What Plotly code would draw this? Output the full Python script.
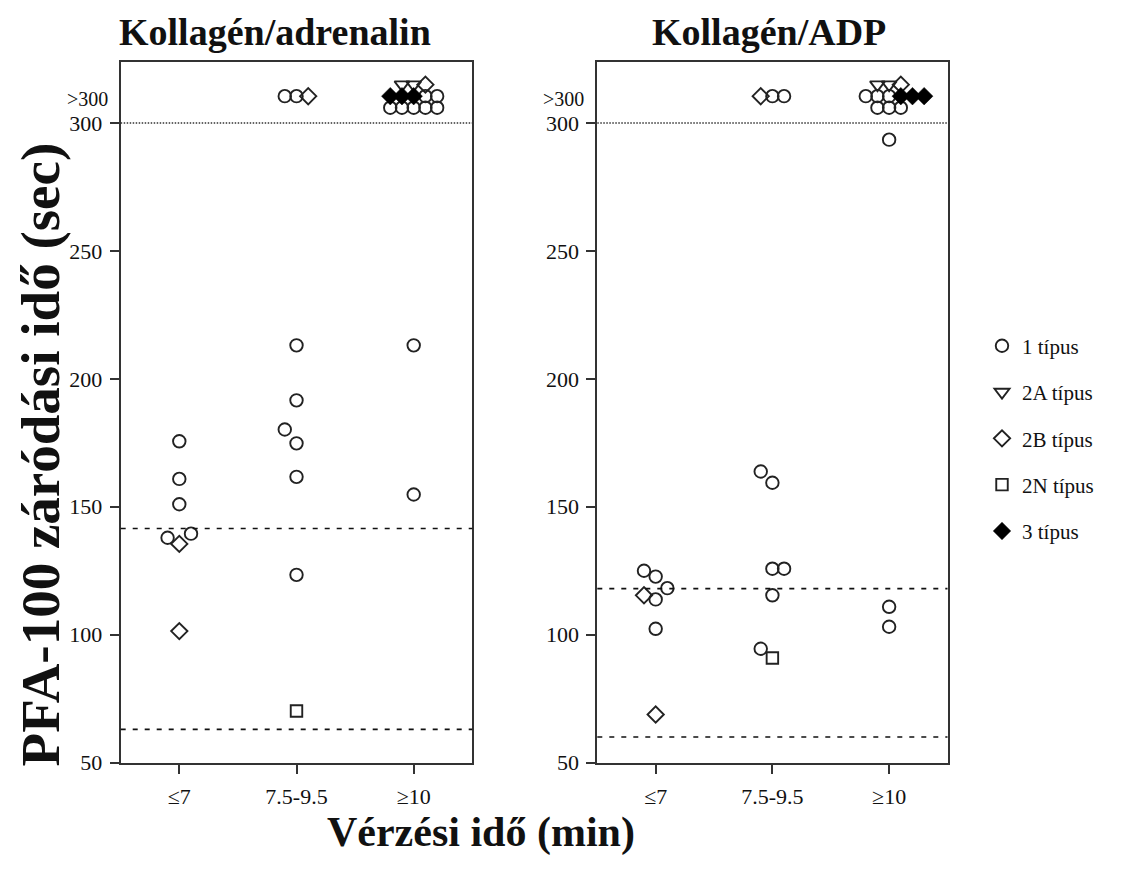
import plotly.graph_objects as go

categories = ["≤7", "7.5-9.5", "≥10"]
panel_titles = ["Kollagén/adrenalin", "Kollagén/ADP"]
type_names = ["1 típus", "2A típus", "2B típus", "2N típus", "3 típus"]
y_tick_vals = [50, 100, 150, 200, 250, 300]
over_label = ">300"
over_label_y = 309.5

# ---- Kollagén/adrenalin (category index 1..3, value in sec, horizontal jitter) ----
adr_t1_cat = [1, 1, 1, 1, 1, 2, 2, 2, 2, 2, 2, 2, 2, 3, 3, 3, 3, 3, 3, 3, 3, 3]
adr_t1_val = [175.6, 160.9, 151.0, 137.9, 139.5,
              213.1, 191.6, 180.2, 174.8, 161.7, 123.4, 310.5, 310.5,
              213.1, 154.8, 310.5, 310.5, 306, 306, 306, 306, 306]
adr_t1_jit = [0, 0, 0, -0.1, 0.1,
              0, 0, -0.1, 0, 0, 0, -0.1, 0,
              0, 0, 0.1, 0.2, -0.2, -0.1, 0, 0.1, 0.2]
adr_t2a_cat = [3, 3]
adr_t2a_val = [315, 315]
adr_t2a_jit = [-0.1, 0]
adr_t2b_cat = [1, 1, 2, 3]
adr_t2b_val = [135.5, 101.4, 310.5, 315]
adr_t2b_jit = [0, 0, 0.1, 0.1]
adr_t2n_cat = [2]
adr_t2n_val = [70.2]
adr_t2n_jit = [0]
adr_t3_cat = [3, 3, 3]
adr_t3_val = [310.5, 310.5, 310.5]
adr_t3_jit = [-0.2, -0.1, 0]
adr_ref_lines = [141.5, 63.0]

# ---- Kollagén/ADP ----
adp_t1_cat = [1, 1, 1, 1, 1, 2, 2, 2, 2, 2, 2, 2, 2, 3, 3, 3, 3, 3, 3, 3, 3, 3]
adp_t1_val = [125.0, 122.7, 118.2, 113.8, 102.3,
              163.8, 159.4, 125.8, 125.8, 115.4, 94.5, 310.5, 310.5,
              110.9, 103.1, 293.5, 310.5, 310.5, 310.5, 306, 306, 306]
adp_t1_jit = [-0.1, 0, 0.1, 0, 0,
              -0.1, 0, 0, 0.1, 0, -0.1, 0, 0.1,
              0, 0, 0, -0.2, -0.1, 0, -0.1, 0, 0.1]
adp_t2a_cat = [3, 3]
adp_t2a_val = [315, 315]
adp_t2a_jit = [-0.1, 0]
adp_t2b_cat = [1, 1, 2, 3]
adp_t2b_val = [115.4, 68.8, 310.5, 315]
adp_t2b_jit = [-0.1, 0, -0.1, 0.1]
adp_t2n_cat = [2]
adp_t2n_val = [90.9]
adp_t2n_jit = [0]
adp_t3_cat = [3, 3, 3]
adp_t3_val = [310.5, 310.5, 310.5]
adp_t3_jit = [0.1, 0.2, 0.3]
adp_ref_lines = [118.0, 60.0]

FONT = "Liberation Serif, Times New Roman, serif"
INK = "#222222"

styles = [
    dict(symbol="circle-open", size=12.5, color=INK, line=dict(width=1.9, color=INK)),
    dict(symbol="triangle-down-open", size=13, color=INK, line=dict(width=1.9, color=INK)),
    dict(symbol="diamond-open", size=12.5, color=INK, line=dict(width=1.9, color=INK)),
    dict(symbol="square-open", size=11.5, color=INK, line=dict(width=1.9, color=INK)),
    dict(symbol="diamond", size=13.5, color="black", line=dict(width=0.5, color="black")),
]

panels = [
    [(adr_t1_cat, adr_t1_val, adr_t1_jit), (adr_t2a_cat, adr_t2a_val, adr_t2a_jit),
     (adr_t2b_cat, adr_t2b_val, adr_t2b_jit), (adr_t2n_cat, adr_t2n_val, adr_t2n_jit),
     (adr_t3_cat, adr_t3_val, adr_t3_jit)],
    [(adp_t1_cat, adp_t1_val, adp_t1_jit), (adp_t2a_cat, adp_t2a_val, adp_t2a_jit),
     (adp_t2b_cat, adp_t2b_val, adp_t2b_jit), (adp_t2n_cat, adp_t2n_val, adp_t2n_jit),
     (adp_t3_cat, adp_t3_val, adp_t3_jit)],
]
ref_lines = [adr_ref_lines, adp_ref_lines]

W, H = 1128, 871
HE = 859.0  # effective rendered height of the plotting area in the viewer


def py(px_from_top):
    return 1 - px_from_top / HE


x_domains = [[120.7 / W, 472.3 / W], [597.3 / W, 947.5 / W]]
y_domain = [py(763.5), py(61.7)]
title_x_px = [275, 769]

fig = go.Figure()
for p, series in enumerate(panels):
    xa = "x" if p == 0 else "x2"
    ya = "y" if p == 0 else "y2"
    for t, (cats, vals, jit) in enumerate(series):
        fig.add_trace(go.Scatter(
            x=[c + j for c, j in zip(cats, jit)], y=vals, mode="markers",
            marker=styles[t], name=type_names[t], legendgroup=type_names[t],
            showlegend=(p == 0), xaxis=xa, yaxis=ya, cliponaxis=False,
        ))

axis_common = dict(showline=True, mirror=True, linecolor="#333333", linewidth=2,
                   ticks="outside", ticklen=9, tickwidth=2, tickcolor="#333333",
                   showgrid=False, zeroline=False,
                   tickfont=dict(family=FONT, size=22, color="#111111"))

layout = dict(
    width=W, height=H, margin=dict(l=0, r=0, t=0, b=0),
    paper_bgcolor="white", plot_bgcolor="white",
    showlegend=True,
    legend=dict(x=982 / W, y=py(326), xanchor="left", yanchor="top",
                font=dict(family=FONT, size=21, color="#111111"),
                tracegroupgap=16, bgcolor="rgba(0,0,0,0)", itemwidth=30),
)
for p in range(2):
    sfx = "" if p == 0 else "2"
    layout["xaxis" + sfx] = dict(axis_common, domain=x_domains[p], range=[0.5, 3.5],
                                 tickvals=[1, 2, 3], ticktext=categories,
                                 anchor="y" + sfx, ticklabelstandoff=4)
    layout["yaxis" + sfx] = dict(axis_common, domain=y_domain, range=[50, 324],
                                 tickvals=y_tick_vals, anchor="x" + sfx,
                                 ticklabelstandoff=3)
fig.update_layout(**layout)

shapes = []
annotations = []
for p in range(2):
    sfx = "" if p == 0 else "2"
    shapes.append(dict(type="line", xref="x" + sfx + " domain", yref="y" + sfx,
                       x0=0, x1=1, y0=300, y1=300,
                       line=dict(color="#333333", width=1.5, dash="1.5px,1.5px")))
    for v in ref_lines[p]:
        shapes.append(dict(type="line", xref="x" + sfx + " domain", yref="y" + sfx,
                           x0=0, x1=1, y0=v, y1=v,
                           line=dict(color="#111111", width=1.6, dash="5px,7px")))
    annotations.append(dict(text=over_label, xref="paper", yref="y" + sfx,
                            x=(x_domains[p][0] * W - 11) / W, y=over_label_y,
                            xanchor="right", yanchor="middle", showarrow=False,
                            font=dict(family=FONT, size=20, color="#111111")))
    annotations.append(dict(text="<b>" + panel_titles[p] + "</b>", xref="paper", yref="paper",
                            x=title_x_px[p] / W, y=py(32),
                            xanchor="center", yanchor="middle", showarrow=False,
                            font=dict(family=FONT, size=38, color="#111111")))

annotations.append(dict(text="<b>PFA-100 záródási idő (sec)</b>", xref="paper", yref="paper",
                        x=40 / W, y=py(455), textangle=-90,
                        xanchor="center", yanchor="middle", showarrow=False,
                        font=dict(family=FONT, size=55, color="#111111")))
annotations.append(dict(text="<b>Vérzési idő (min)</b>", xref="paper", yref="paper",
                        x=481 / W, y=py(833),
                        xanchor="center", yanchor="middle", showarrow=False,
                        font=dict(family=FONT, size=42, color="#111111")))
fig.update_layout(shapes=shapes, annotations=annotations)

fig.write_html("out.html")
